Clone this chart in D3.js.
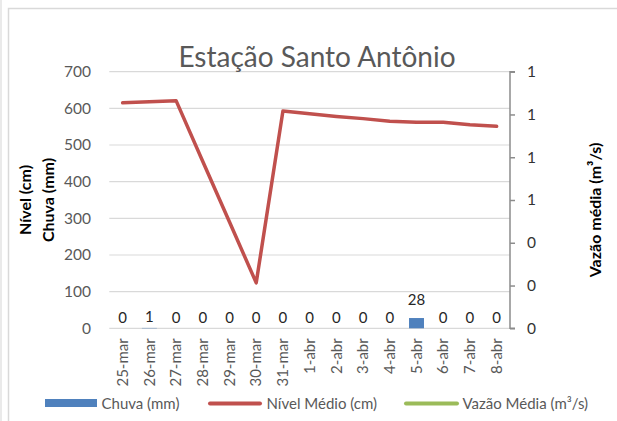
<!DOCTYPE html>
<html>
<head>
<meta charset="utf-8">
<script src="https://cdn.jsdelivr.net/npm/d3@7"></script>
<style>
  html, body { margin: 0; padding: 0; background: #fff; }
  svg { display: block; font-family: Lato, "Open Sans", sans-serif; }
</style>
</head>
<body>
<svg id="chart" width="617" height="421"></svg>
<script>
const categories = ["25-mar","26-mar","27-mar","28-mar","29-mar","30-mar","31-mar","1-abr","2-abr","3-abr","4-abr","5-abr","6-abr","7-abr","8-abr"];
const chuva = [0,1,0,0,0,0,0,0,0,0,0,28,0,0,0];
const nivel = [615,618,621,455,290,124,593,585,578,572,565,562,562,555,551];
const vazao = [null,null,null,null,null,null,null,null,null,null,null,null,null,null,null];
const leftTicks = [0,100,200,300,400,500,600,700];
const rightTicks = [0,0.2,0.4,0.6,0.8,1.0,1.2];
const title = "Estação Santo Antônio";
const legendLabels = ["Chuva (mm)","Nível Médio (cm)","Vazão Média (m³/s)"];

const svg = d3.select("#chart");
const X0 = 109.3, X1 = 510, Y0 = 328.3, Y1 = 71.7;

// frame
svg.append("line").attr("x1",1).attr("x2",1).attr("y1",0).attr("y2",421).attr("stroke","#e3e3e3").attr("stroke-width",1.5);
svg.append("rect").attr("x",8.5).attr("y",8.5).attr("width",640).attr("height",440)
  .attr("fill","none").attr("stroke","#d9d9d9").attr("stroke-width",1.5);

const xBand = d3.scaleBand().domain(categories).range([X0, X1]).padding(0);
const xc = d => xBand(d) + xBand.bandwidth()/2;
const y = d3.scaleLinear().domain([0,700]).range([Y0, Y1]);
const y2 = d3.scaleLinear().domain([0,1.2]).range([Y0, Y1]);

// gridlines
svg.append("g").selectAll("line").data(leftTicks).join("line")
  .attr("x1",X0).attr("x2",X1).attr("y1",d=>y(d)).attr("y2",d=>y(d))
  .attr("stroke","#d9d9d9").attr("stroke-width",1.2);

// left axis labels
const yAxis = d3.axisLeft(y).tickValues(leftTicks).tickSize(0).tickPadding(0);
const gy = svg.append("g").attr("transform",`translate(91,0)`).call(yAxis);
gy.select(".domain").remove();
gy.selectAll("text").attr("font-size","15.5px").attr("fill","#595959").attr("font-family","Lato");

// right axis
const y2Axis = d3.axisRight(y2).tickValues(rightTicks).tickFormat(d3.format(".0f")).tickSize(5).tickPadding(12);
const gy2 = svg.append("g").attr("transform",`translate(${X1},0)`).call(y2Axis);
gy2.select(".domain").attr("stroke","#8c8c8c").attr("stroke-width",1.5).attr("d",`M5,${Y1}H0V${Y0}H5`);
gy2.selectAll(".tick line").attr("stroke","#8c8c8c").attr("stroke-width",1.5);
gy2.selectAll("text").attr("font-size","15.5px").attr("fill","#333").attr("font-family","Lato");

// x axis labels
const xAxis = d3.axisBottom(xBand).tickSize(0).tickPadding(0);
const gx = svg.append("g").attr("transform",`translate(0,${Y0})`).call(xAxis);
gx.select(".domain").remove();
gx.selectAll("text")
  .attr("font-size","15px").attr("fill","#595959").attr("font-family","Lato")
  .attr("text-anchor","end").attr("transform","rotate(-90)")
  .attr("x",-10).attr("y",0).attr("dy","0.35em");

// bars
const barW = xBand.bandwidth()*0.56;
svg.append("g").selectAll("rect").data(chuva).join("rect")
  .attr("x",(d,i)=>xBand(categories[i]) + (xBand.bandwidth()-barW)/2)
  .attr("width",barW)
  .attr("y",d=>y(d)).attr("height",d=>Y0-y(d))
  .attr("fill","#4f81bd");

// bar labels
svg.append("g").selectAll("text").data(chuva).join("text")
  .attr("x",(d,i)=>xc(categories[i]))
  .attr("y",d=>y(d) - (d > 5 ? 13.5 : 5.5))
  .attr("text-anchor","middle").attr("font-size","15px").attr("fill","#262626")
  .text(d=>d);

// nivel line
const line = d3.line().x((d,i)=>xc(categories[i])).y(d=>y(d));
svg.append("path").datum(nivel).attr("d",line)
  .attr("fill","none").attr("stroke","#c0504d").attr("stroke-width",3.5)
  .attr("stroke-linejoin","round").attr("stroke-linecap","round");

// vazao line (no data)
const line2 = d3.line().defined(d=>d!=null).x((d,i)=>xc(categories[i])).y(d=>y2(d));
svg.append("path").datum(vazao).attr("d",line2)
  .attr("fill","none").attr("stroke","#9bbb59").attr("stroke-width",3.5);

// title
svg.append("text").attr("x",317).attr("y",67).attr("text-anchor","middle")
  .attr("font-size","28px").attr("fill","#595959").text(title);

// axis titles
const lt = svg.append("g").attr("transform","translate(25,200) rotate(-90)");
lt.append("text").attr("text-anchor","middle").attr("dy","0.35em")
  .attr("font-size","16px").attr("font-weight","bold").attr("fill","#000").text("Nível (cm)");
const lt2 = svg.append("g").attr("transform","translate(48,200) rotate(-90)");
lt2.append("text").attr("text-anchor","middle").attr("dy","0.35em")
  .attr("font-size","16px").attr("font-weight","bold").attr("fill","#000").text("Chuva (mm)");
const rt = svg.append("g").attr("transform","translate(595,210) rotate(-90)");
rt.append("text").attr("text-anchor","middle").attr("dy","0.35em")
  .attr("font-size","16px").attr("font-weight","bold").attr("fill","#000").text("Vazão média (m³/s)");

// legend
const lg = svg.append("g");
lg.append("rect").attr("x",45).attr("y",399).attr("width",52).attr("height",8).attr("fill","#4f81bd");
lg.append("line").attr("x1",210).attr("x2",260).attr("y1",403.5).attr("y2",403.5)
  .attr("stroke","#c0504d").attr("stroke-width",4).attr("stroke-linecap","round");
lg.append("line").attr("x1",406).attr("x2",457).attr("y1",403.5).attr("y2",403.5)
  .attr("stroke","#9bbb59").attr("stroke-width",4).attr("stroke-linecap","round");
const lx = [101.5, 266.5, 462.5];
lg.selectAll("text.leg").data(legendLabels).join("text").attr("class","leg")
  .attr("x",(d,i)=>lx[i]).attr("y",404).attr("dy","0.35em")
  .attr("font-size","15px").attr("fill","#595959").text(d=>d);
</script>
</body>
</html>
